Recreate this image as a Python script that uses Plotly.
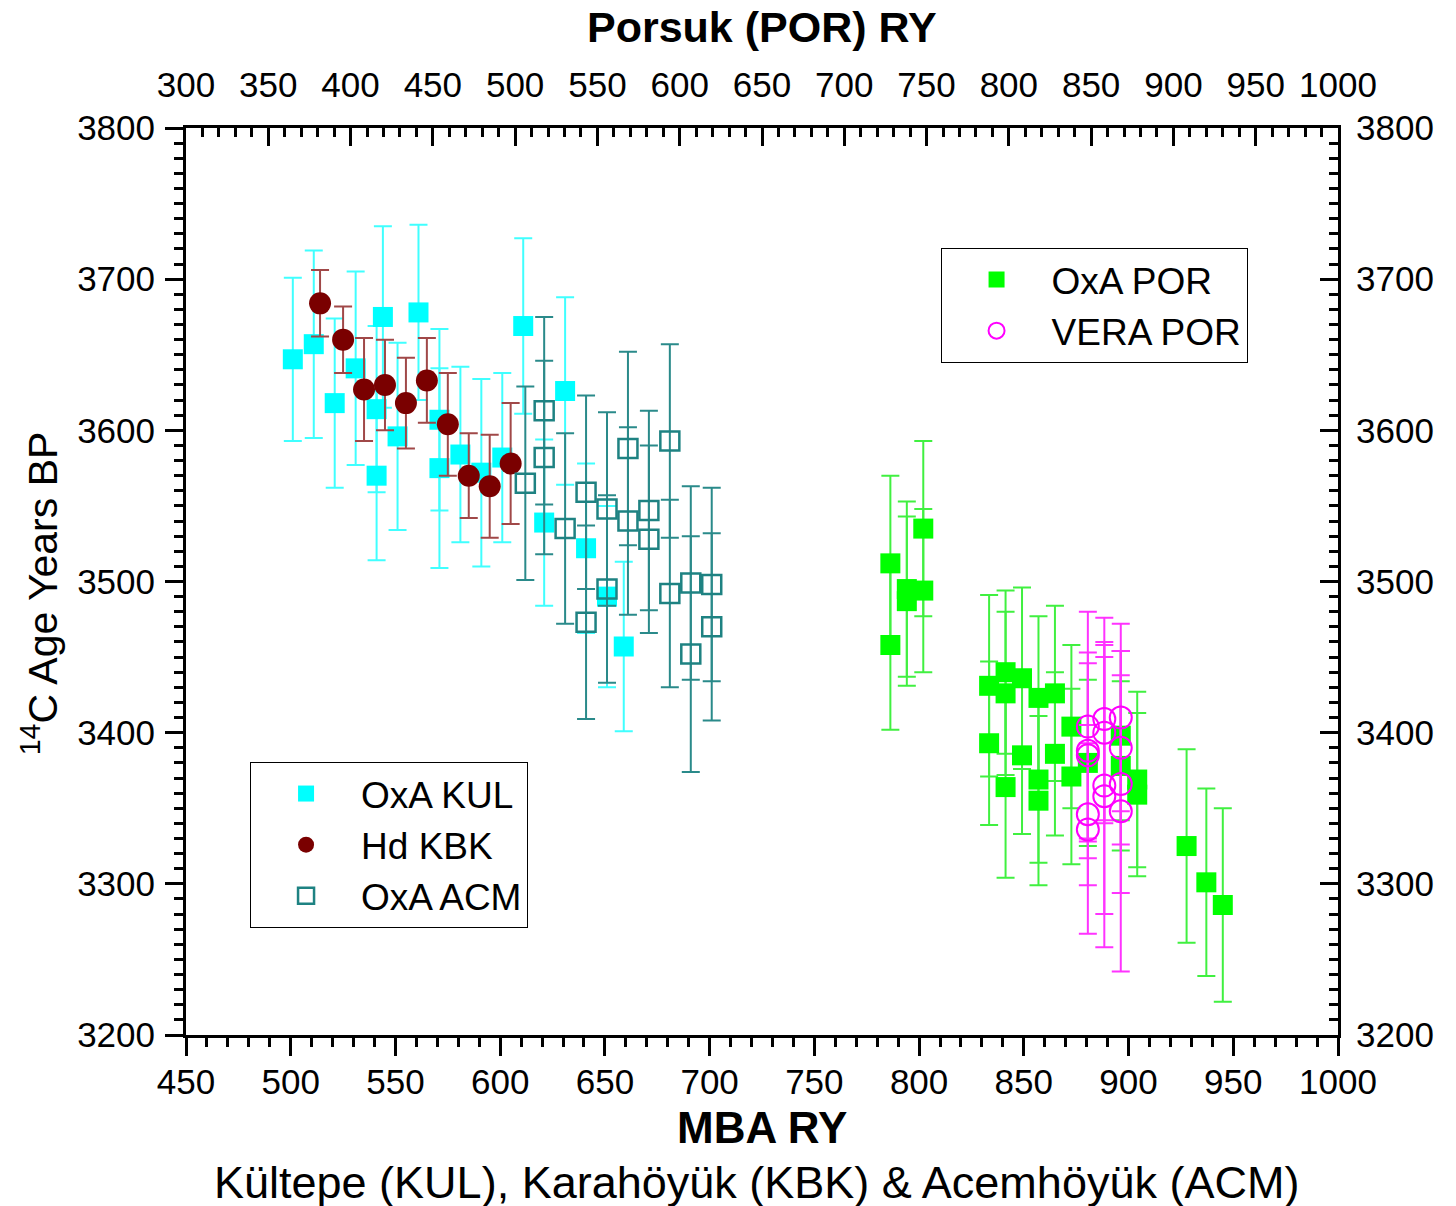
import plotly.graph_objects as go

# ---------------- data ----------------
# OxA KUL (Kültepe) – bottom axis (MBA RY)
kul_x = [501, 511, 521, 531, 544, 541, 541, 551, 561, 571, 571, 581, 591, 601, 611, 621, 631, 641, 651, 659]
kul_y = [3647, 3657, 3618, 3641, 3675, 3614, 3570, 3596, 3678, 3607, 3575, 3584, 3572, 3582, 3669, 3539, 3626, 3522, 3490, 3457]
kul_e = [54, 62, 56, 64, 60, 55, 56, 62, 58, 60, 66, 58, 62, 56, 58, 55, 62, 56, 60, 56]

# Hd KBK (Karahöyük) – bottom axis
kbk_x = [514, 525, 535, 545, 555, 565, 575, 585, 595, 605]
kbk_y = [3684, 3660, 3627, 3630, 3618, 3633, 3604, 3570, 3563, 3578]
kbk_e = [22, 22, 34, 30, 30, 28, 34, 28, 34, 40]

# OxA ACM (Acemhöyük) – bottom axis
acm_x = [612, 621, 621, 631, 641, 641, 651, 651, 661, 661, 671, 671, 681, 681, 691, 691, 701, 701]
acm_y = [3565, 3613, 3582, 3535, 3559, 3473, 3548, 3495, 3588, 3540, 3547, 3528, 3593, 3492, 3499, 3452, 3498, 3470]
acm_e = [64, 62, 64, 63, 64, 64, 64, 62, 64, 62, 66, 62, 64, 62, 64, 78, 64, 62]

# OxA POR (Porsuk) – top axis (Porsuk RY)
oxpor_x = [728, 728, 738, 738, 748, 748, 788, 788, 798, 798, 798, 808, 808, 818, 818, 818,
           828, 828, 838, 838, 848, 868, 868, 878, 878, 908, 920, 930]
oxpor_y = [3512, 3458, 3495, 3487, 3535, 3494, 3431, 3393, 3440, 3426, 3364, 3436, 3385, 3423, 3369, 3355,
           3426, 3386, 3404, 3371, 3380, 3398, 3378, 3369, 3359, 3325, 3301, 3286]
oxpor_e = [58, 56, 58, 56, 58, 54, 60, 54, 54, 54, 60, 60, 52, 54, 55, 56,
           58, 54, 54, 58, 55, 56, 56, 58, 54, 64, 62, 64]

# VERA POR (Porsuk) – top axis
vera_x = [848, 848, 848, 848, 848, 858, 858, 858, 858, 868, 868, 868, 868]
vera_y = [3404, 3388, 3385, 3346, 3336, 3409, 3400, 3365, 3358, 3410, 3390, 3366, 3348]
vera_e = [76, 58, 68, 47, 69, 67, 60, 85, 100, 62, 64, 72, 106]

# axis ranges
x_bottom_range = [450, 1000]
x_top_range = [300, 1000]
y_range = [3200, 3800]

FONT = "Liberation Sans, Arial, sans-serif"

fig = go.Figure()


def err(vals, color):
    return dict(type="data", array=vals, visible=True, color=color, thickness=2, width=9)


fig.add_trace(go.Scatter(
    x=kul_x, y=kul_y, mode="markers", name="OxA KUL", legend="legend",
    marker=dict(symbol="square", size=20, color="#00FFFF"),
    error_y=err(kul_e, "#40FFFF"),
))
fig.add_trace(go.Scatter(
    x=kbk_x, y=kbk_y, mode="markers", name="Hd KBK", legend="legend",
    marker=dict(symbol="circle", size=22, color="#7A0000"),
    error_y=err(kbk_e, "#A04848"),
))
fig.add_trace(go.Scatter(
    x=acm_x, y=acm_y, mode="markers", name="OxA ACM", legend="legend",
    marker=dict(symbol="square-open", size=19, color="#1E8282", line=dict(width=2.5)),
    error_y=err(acm_e, "#2A8A8A"),
))
fig.add_trace(go.Scatter(
    x=oxpor_x, y=oxpor_y, mode="markers", name="OxA POR", legend="legend2",
    xaxis="x2", yaxis="y2",
    marker=dict(symbol="square", size=20, color="#00FF00"),
    error_y=err(oxpor_e, "#40F040"),
))
fig.add_trace(go.Scatter(
    x=vera_x, y=vera_y, mode="markers", name="VERA POR", legend="legend2",
    xaxis="x2", yaxis="y2",
    marker=dict(symbol="circle-open", size=22, color="#FF00FF", line=dict(width=2)),
    error_y=err(vera_e, "#FF33FF"),
))

common = dict(showgrid=False, zeroline=False, showline=True, linewidth=3, linecolor="black",
              tickcolor="black", tickwidth=3, ticklen=18,
              tickfont=dict(family=FONT, size=35, color="black"))

fig.update_layout(
    width=1448, height=1198,
    margin=dict(l=178, r=118, t=120, b=171),
    paper_bgcolor="white", plot_bgcolor="white",
    font=dict(family=FONT, color="black"),
    xaxis=dict(range=x_bottom_range, tickmode="linear", tick0=450, dtick=50, ticks="outside",
               ticklabelstandoff=-4,
               minor=dict(tick0=450, dtick=10, ticks="outside", ticklen=9, tickwidth=3, tickcolor="black"),
               **common),
    xaxis2=dict(range=x_top_range, overlaying="x", side="top", anchor="y2",
                tickmode="linear", tick0=300, dtick=50, ticks="inside", ticklabelstandoff=14,
                minor=dict(tick0=300, dtick=10, ticks="inside", ticklen=9, tickwidth=3, tickcolor="black"),
                **common),
    yaxis=dict(range=y_range, tickmode="linear", tick0=3200, dtick=100, ticks="outside",
               ticklabelstandoff=3,
               minor=dict(tick0=3200, dtick=10, ticks="outside", ticklen=9, tickwidth=3, tickcolor="black"),
               **common),
    yaxis2=dict(range=y_range, overlaying="y", side="right", anchor="x2",
                tickmode="linear", tick0=3200, dtick=100, ticks="inside", ticklabelstandoff=8,
                minor=dict(tick0=3200, dtick=10, ticks="inside", ticklen=9, tickwidth=3, tickcolor="black"),
                **common),
    legend=dict(x=0.0556, y=0.301, xanchor="left", yanchor="top",
                bgcolor="white", bordercolor="black", borderwidth=1,
                font=dict(family=FONT, size=37, color="black"), itemwidth=100,
                traceorder="normal"),
    legend2=dict(x=0.655, y=0.8677, xanchor="left", yanchor="top",
                 bgcolor="white", bordercolor="black", borderwidth=1,
                 font=dict(family=FONT, size=37, color="black"), itemwidth=100,
                 traceorder="normal"),
    showlegend=True,
    annotations=[
        dict(text="<b>Porsuk (POR) RY</b>", xref="paper", yref="paper", x=0.5, y=1.1113,
             xanchor="center", yanchor="middle",
             showarrow=False, font=dict(family=FONT, size=43, color="black")),
        dict(text="<b>MBA RY</b>", xref="paper", yref="paper", x=0.5, y=-0.1025,
             xanchor="center", yanchor="middle",
             showarrow=False, font=dict(family=FONT, size=44, color="black")),
        dict(text="Kültepe (KUL), Karahöyük (KBK) & Acemhöyük (ACM)", xref="paper", yref="paper",
             x=0.495, y=-0.1625, xanchor="center", yanchor="middle",
             showarrow=False, font=dict(family=FONT, size=45, color="black")),
        dict(text="<sup>14</sup>C Age Years BP", xref="paper", yref="paper", x=-0.1267, y=0.487,
             xanchor="center", yanchor="middle",
             textangle=-90, showarrow=False, font=dict(family=FONT, size=41, color="black")),
    ],
)

fig.write_html("out.html")
